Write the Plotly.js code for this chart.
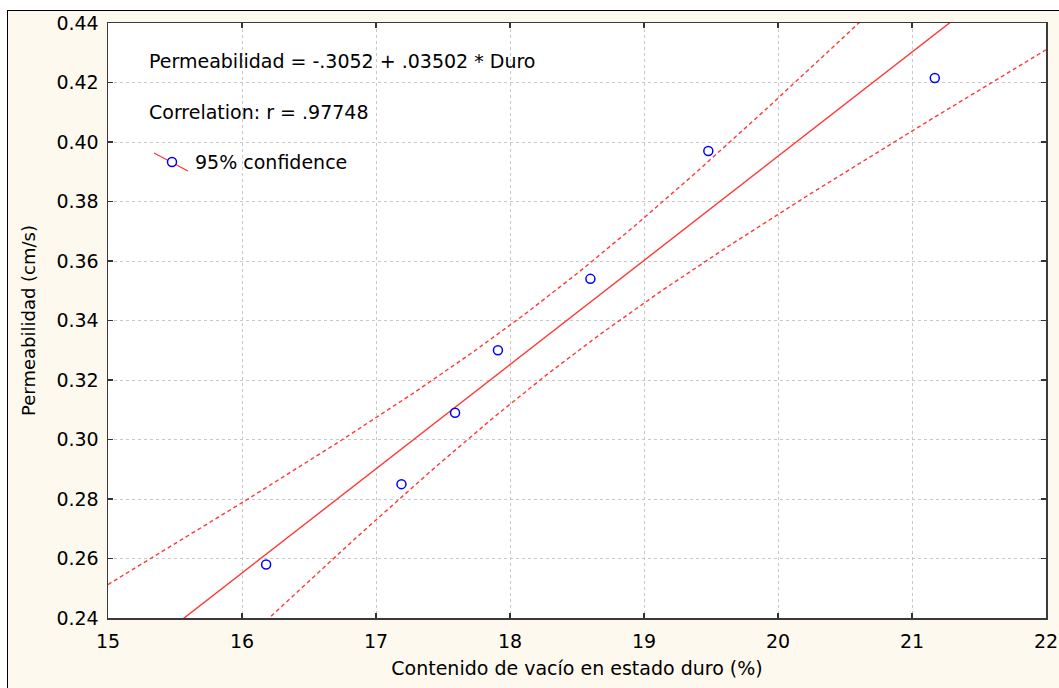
<!DOCTYPE html>
<html>
<head>
<meta charset="utf-8">
<script src="https://cdn.plot.ly/plotly-3.0.1.min.js"></script>
<style>
  html, body { margin: 0; padding: 0; background: #ffffff; width: 1059px; height: 688px; overflow: hidden; }
  #frame { position: absolute; left: 7px; top: 10px; width: 1100px; height: 700px;
           background: #fef9ee; border-left: 1.5px solid #000; border-top: 1.5px solid #000; }
  #chart { position: absolute; left: 0; top: 0; width: 1059px; height: 688px; }
</style>
</head>
<body>
<div id="frame"></div>
<div id="chart"></div>
<script>
// ---- data ----
const vacioDuro = [16.18, 17.19, 17.59, 17.91, 18.60, 19.48, 21.17];       // Contenido de vacío en estado duro (%)
const permeabilidad = [0.258, 0.285, 0.309, 0.330, 0.354, 0.397, 0.4215];  // Permeabilidad (cm/s)

// regression shown on the chart
const intercept = -0.3052;
const slope = 0.03502;
const eqText = "Permeabilidad = -.3052 + .03502 * Duro";
const corrText = "Correlation: r = .97748";
const legendText = "95% confidence";
const tValue = 2.5706; // t(0.975, n-2 = 5)

// axis ticks
const xTicks = [15, 16, 17, 18, 19, 20, 21, 22];
const yTicks = [0.24, 0.26, 0.28, 0.30, 0.32, 0.34, 0.36, 0.38, 0.40, 0.42, 0.44];

const xTitle = "Contenido de vacío en estado duro (%)";
const yTitle = "Permeabilidad (cm/s)";

// ---- derived regression curves ----
const n = vacioDuro.length;
const meanX = vacioDuro.reduce((a, b) => a + b, 0) / n;
const sxx = vacioDuro.reduce((a, x) => a + (x - meanX) * (x - meanX), 0);
const sse = vacioDuro.reduce((a, x, i) => {
  const r = permeabilidad[i] - (intercept + slope * x);
  return a + r * r;
}, 0);
const s = Math.sqrt(sse / (n - 2));

const xMin = xTicks[0], xMax = xTicks[xTicks.length - 1];
const fitX = [], fitY = [], upY = [], loY = [];
for (let k = 0; k <= 140; k++) {
  const x = xMin + (xMax - xMin) * k / 140;
  const y = intercept + slope * x;
  const hw = tValue * s * Math.sqrt(1 / n + (x - meanX) * (x - meanX) / sxx);
  fitX.push(x); fitY.push(y); upY.push(y + hw); loY.push(y - hw);
}

const red = "#ff3838";
const txt = "#000000";
const traces = [
  { x: fitX, y: upY, mode: "lines", line: { color: red, width: 1.4, dash: "4px,3px" }, hoverinfo: "skip", showlegend: false },
  { x: fitX, y: loY, mode: "lines", line: { color: red, width: 1.4, dash: "4px,3px" }, hoverinfo: "skip", showlegend: false },
  { x: fitX, y: fitY, mode: "lines", line: { color: red, width: 1.4 }, hoverinfo: "skip", showlegend: false },
  { x: vacioDuro, y: permeabilidad, mode: "markers", name: legendText,
    marker: { symbol: "circle-open", size: 9, color: "#0000ff", line: { width: 1.5, color: "#0000ff" } }, showlegend: false }
];

// plot area in pixels: x 108..1046, y 23..618
const L = 108, T = 23, W = 938, H = 595;
const px = v => (v - L) / W;
const py = v => (T + H - v) / H;

const axisCommon = {
  showline: true, linecolor: "#3a3a3a", linewidth: 1.5, mirror: "ticks",
  ticks: "inside", ticklen: 5, tickcolor: "#333", tickwidth: 1.2,
  showgrid: true, gridcolor: "#c8c8c8", gridwidth: 1, griddash: "dot",
  zeroline: false, tickfont: { family: "DejaVu Sans", size: 19, color: txt }
};

const layout = {
  width: 1059, height: 688,
  margin: { l: L, r: 1059 - L - W, t: T, b: 688 - T - H, pad: 0 },
  paper_bgcolor: "rgba(0,0,0,0)", plot_bgcolor: "#ffffff",
  font: { family: "DejaVu Sans", size: 19, color: txt },
  showlegend: false,
  xaxis: Object.assign({}, axisCommon, {
    range: [xMin, xMax], tickmode: "array", tickvals: xTicks, ticktext: xTicks.map(String),
    ticklabelstandoff: 6,
    title: { text: xTitle, font: { family: "DejaVu Sans", size: 19, color: txt }, standoff: 10 }
  }),
  yaxis: Object.assign({}, axisCommon, {
    range: [yTicks[0], yTicks[yTicks.length - 1]], tickmode: "array", tickvals: yTicks,
    ticktext: yTicks.map(v => v.toFixed(2)), ticklabelstandoff: 4,
    title: { text: yTitle, font: { family: "DejaVu Sans", size: 18, color: txt }, standoff: 16 }
  }),
  annotations: [
    { xref: "paper", yref: "paper", x: px(147), y: py(61), xanchor: "left", yanchor: "middle",
      text: eqText, showarrow: false, font: { family: "DejaVu Sans", size: 19, color: txt } },
    { xref: "paper", yref: "paper", x: px(147), y: py(112), xanchor: "left", yanchor: "middle",
      text: corrText, showarrow: false, font: { family: "DejaVu Sans", size: 19, color: txt } },
    { xref: "paper", yref: "paper", x: px(193), y: py(162), xanchor: "left", yanchor: "middle",
      text: legendText, showarrow: false, font: { family: "DejaVu Sans", size: 19, color: txt } }
  ],
  shapes: [
    { type: "line", xref: "paper", yref: "paper", x0: px(154), y0: py(153), x1: px(188), y1: py(171),
      line: { color: red, width: 1.3 }, layer: "above" },
    { type: "circle", xref: "paper", yref: "paper", x0: px(167.5), y0: py(157.5), x1: px(176.5), y1: py(166.5),
      line: { color: "#0000ff", width: 1.5 }, fillcolor: "#ffffff", layer: "above" }
  ]
};

Plotly.newPlot("chart", traces, layout, { displayModeBar: false, staticPlot: true });
</script>
</body>
</html>
